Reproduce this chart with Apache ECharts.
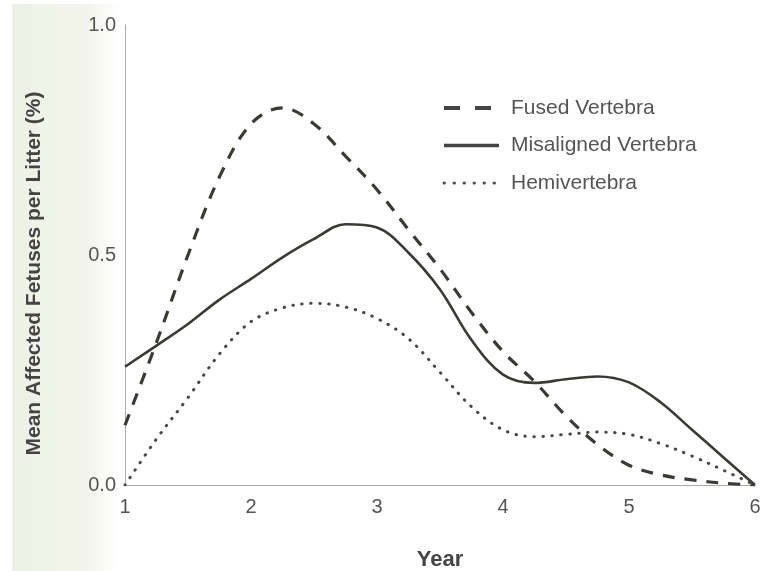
<!DOCTYPE html>
<html>
<head>
<meta charset="utf-8">
<script src="https://cdn.jsdelivr.net/npm/echarts@6/dist/echarts.min.js"></script>
<style>
html,body{margin:0;padding:0;background:#fff;}
#chart{width:764px;height:571px;}
</style>
</head>
<body>
<div id="chart"></div>
<script>
var years = [1, 1.25, 1.5, 1.75, 2, 2.25, 2.5, 2.75, 3, 3.25, 3.5, 3.75, 4, 4.25, 4.5, 4.75, 5, 5.25, 5.5, 5.75, 6];
var fusedVertebra = [0.13, 0.31, 0.50, 0.67, 0.785, 0.82, 0.785, 0.715, 0.642, 0.555, 0.47, 0.375, 0.29, 0.225, 0.15, 0.088, 0.043, 0.022, 0.011, 0.004, 0];
var misalignedVertebra = [0.257, 0.303, 0.35, 0.403, 0.448, 0.495, 0.535, 0.567, 0.56, 0.505, 0.425, 0.315, 0.24, 0.222, 0.23, 0.236, 0.223, 0.18, 0.12, 0.06, 0];
var hemivertebra = [0, 0.10, 0.19, 0.285, 0.355, 0.385, 0.395, 0.387, 0.362, 0.318, 0.245, 0.17, 0.12, 0.105, 0.11, 0.115, 0.11, 0.09, 0.063, 0.032, 0];
var seriesNames = ['Fused Vertebra', 'Misaligned Vertebra', 'Hemivertebra'];
var yTicks = [0, 0.5, 1.0];
var xTicks = [1, 2, 3, 4, 5, 6];

function pairs(vals) { return years.map(function (x, i) { return [x, vals[i]]; }); }

var lineColor = '#3b3b36';
var font = '"Liberation Sans", Arial, Helvetica, sans-serif';
var hiddenSymbol = {opacity: 0, color: 'rgba(0,0,0,0)', borderWidth: 0};

var chart = echarts.init(document.getElementById('chart'), null, {renderer: 'canvas'});
chart.setOption({
  backgroundColor: '#ffffff',
  animation: false,
  textStyle: {fontFamily: font},
  graphic: [{
    type: 'rect', z: -10, silent: true,
    shape: {x: 12, y: 4, width: 108, height: 567},
    style: {fill: new echarts.graphic.LinearGradient(0, 0, 1, 0, [
      {offset: 0, color: '#edf1e4'}, {offset: 0.7, color: '#f3f5ec'}, {offset: 1, color: '#ffffff'}])}
  }],
  grid: {left: 125, right: 9, top: 25, bottom: 86, containLabel: false, outerBoundsMode: 'none'},
  legend: {
    orient: 'vertical', left: 437, top: 92,
    itemWidth: 55, itemHeight: 22, itemGap: 15.5,
    textStyle: {fontFamily: font, fontSize: 21, color: '#555', lineHeight: 22, padding: [0, 0, 0, 7]},
    data: [
      {name: seriesNames[0], itemStyle: hiddenSymbol, lineStyle: {type: [16, 15], width: 4, color: '#444', cap: 'butt'}},
      {name: seriesNames[1], itemStyle: hiddenSymbol, lineStyle: {type: 'solid', width: 3.5, color: '#444'}},
      {name: seriesNames[2], itemStyle: hiddenSymbol, lineStyle: {type: [0.5, 9.5], width: 3, color: '#555', cap: 'round'}}
    ]
  },
  xAxis: {
    type: 'value', min: 1, max: 6, interval: 1,
    name: 'Year', nameLocation: 'middle', nameGap: 64,
    nameTextStyle: {fontFamily: font, fontSize: 22, fontWeight: 'bold', color: '#444'},
    axisLine: {lineStyle: {color: '#aaa', width: 1}},
    axisTick: {show: false},
    splitLine: {show: false},
    axisLabel: {fontFamily: font, fontSize: 20, color: '#555', margin: 12,
      formatter: function (v) { return xTicks.indexOf(v) >= 0 ? String(v) : ''; }}
  },
  yAxis: {
    type: 'value', min: 0, max: 1, interval: 0.5,
    name: 'Mean Affected Fetuses per Litter (%)', nameLocation: 'middle', nameGap: 80,
    nameTextStyle: {fontFamily: font, fontSize: 21, fontWeight: 'bold', color: '#444', padding: [0, 37, 0, 0]},
    axisLine: {show: true, lineStyle: {color: '#aaa', width: 1}},
    axisTick: {show: false},
    splitLine: {show: false},
    axisLabel: {fontFamily: font, fontSize: 20, color: '#555', margin: 9,
      formatter: function (v) { return yTicks.indexOf(v) >= 0 ? v.toFixed(1) : ''; }}
  },
  series: [
    {name: seriesNames[0], type: 'line', data: pairs(fusedVertebra), smooth: 0.35, showSymbol: false, symbol: 'none',
      lineStyle: {color: lineColor, width: 3.2, type: [12, 10], cap: 'butt'}, itemStyle: {color: lineColor}},
    {name: seriesNames[1], type: 'line', data: pairs(misalignedVertebra), smooth: 0.35, showSymbol: false, symbol: 'none',
      lineStyle: {color: lineColor, width: 2.6, type: 'solid'}, itemStyle: {color: lineColor}},
    {name: seriesNames[2], type: 'line', data: pairs(hemivertebra), smooth: 0.35, showSymbol: false, symbol: 'none',
      lineStyle: {color: '#4a4a45', width: 3, type: [0.5, 8.5], cap: 'round'}, itemStyle: {color: lineColor}}
  ]
});
</script>
</body>
</html>
